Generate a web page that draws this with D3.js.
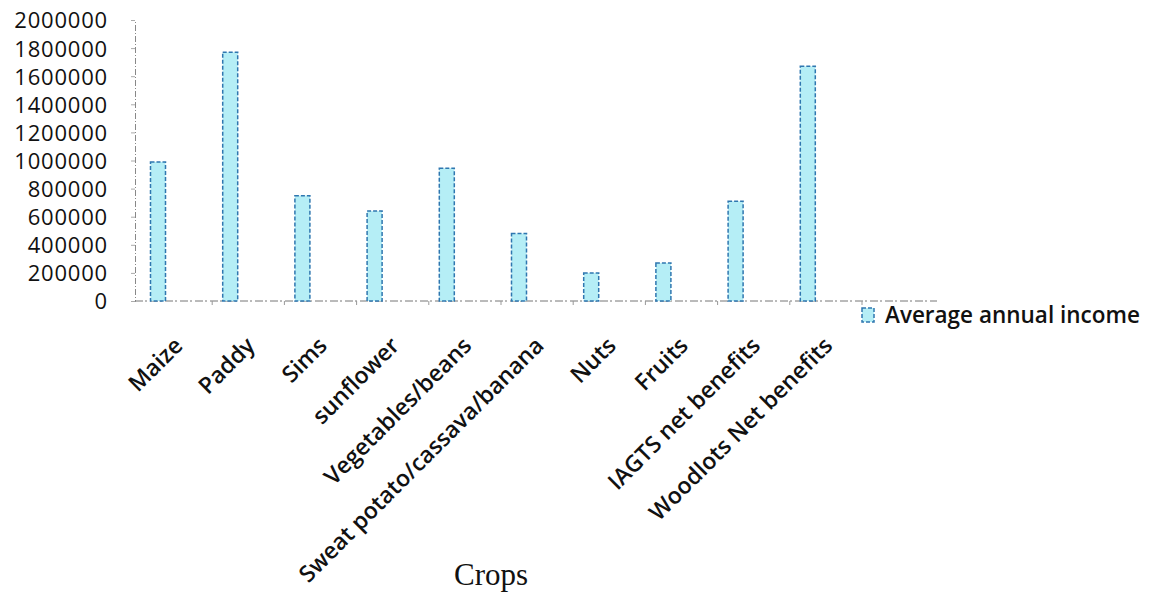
<!DOCTYPE html>
<html>
<head>
<meta charset="utf-8">
<script src="https://cdn.jsdelivr.net/npm/d3@7"></script>
<style>
  html, body { margin: 0; padding: 0; background: #fff; }
  svg { display: block; }
  text { font-family: "Open Sans", sans-serif; fill: #111; }
</style>
</head>
<body>
<svg id="chart" width="1151" height="598"></svg>
<script>
const categories = ["Maize", "Paddy", "Sims", "sunflower", "Vegetables/beans",
  "Sweat potato/cassava/banana", "Nuts", "Fruits", "IAGTS net benefits", "Woodlots Net benefits"];
const seriesName = "Average annual income";
const incomeValues = [990000, 1770000, 750000, 640000, 945000, 480000, 200000, 270000, 710000, 1670000];
const yTicks = [0, 200000, 400000, 600000, 800000, 1000000, 1200000, 1400000, 1600000, 1800000, 2000000];
const xTitle = "Crops";

const svg = d3.select("#chart");
const yTop = 20, yBottom = 301, axisX = 135;

const y = d3.scaleLinear().domain([0, 2000000]).range([yBottom, yTop]);
const x = d3.scaleBand().domain(categories).range([140, 862]).paddingInner(0).paddingOuter(0);

// Y axis
const yAxis = d3.axisLeft(y).tickValues(yTicks).tickSize(4).tickPadding(23).tickFormat(d3.format("d"));
const gy = svg.append("g").attr("transform", `translate(${axisX},0)`).call(yAxis);
gy.select(".domain").attr("stroke", "#888").attr("stroke-dasharray", "6,2,1,2");
gy.selectAll(".tick line").attr("stroke", "#aaa");
gy.selectAll(".tick text").style("font-size", "22px").style("font-weight", 500)
  .style("letter-spacing", "0.8px").attr("fill", "#111").attr("dy", "0.36em");

// X baseline (zero-valued series appear as flat dashed segments)
svg.append("line")
  .attr("x1", axisX).attr("x2", 937).attr("y1", y(0)).attr("y2", y(0))
  .attr("stroke", "#777").attr("stroke-dasharray", "8,2,2,3");

// X ticks at category boundaries
const bounds = categories.slice(1).map(c => x(c)).concat([x.range()[1]]);
svg.append("g").selectAll("line").data(bounds).join("line")
  .attr("x1", d => d).attr("x2", d => d)
  .attr("y1", y(0)).attr("y2", y(0) + 4)
  .attr("stroke", "#999");

// Bars
const barW = 15, barOff = 10.5;
const bars = svg.append("g").selectAll("g").data(categories).join("g");
bars.append("rect")
  .attr("x", d => x(d) + barOff)
  .attr("y", (d, i) => y(incomeValues[i]))
  .attr("width", barW)
  .attr("height", (d, i) => y(0) - y(incomeValues[i]))
  .attr("fill", "#b5eef6")
  .attr("stroke", "#2f77b0")
  .attr("stroke-width", 1.5)
  .attr("stroke-dasharray", "4,2");

// Category labels
svg.append("g").selectAll("text").data(categories).join("text")
  .attr("transform", d => `translate(${x(d) + x.bandwidth() / 2 + 8},${347}) rotate(-45)`)
  .attr("text-anchor", "end")
  .style("font-size", "23px")
  .style("font-weight", 600)
  .text(d => d);

// X title
svg.append("text")
  .attr("x", 491).attr("y", 585)
  .attr("text-anchor", "middle")
  .style("font-family", "'Liberation Serif', 'Times New Roman', serif")
  .style("font-size", "31px")
  .text(xTitle);

// Legend
const lg = svg.append("g").attr("transform", "translate(862,308)");
lg.append("rect").attr("width", 12).attr("height", 14)
  .attr("fill", "#b5eef6").attr("stroke", "#2f77b0").attr("stroke-width", 1.5).attr("stroke-dasharray", "4,2");
lg.append("text").attr("x", 23).attr("y", 15)
  .style("font-size", "22.5px").style("font-weight", 600)
  .text(seriesName);
</script>
</body>
</html>
